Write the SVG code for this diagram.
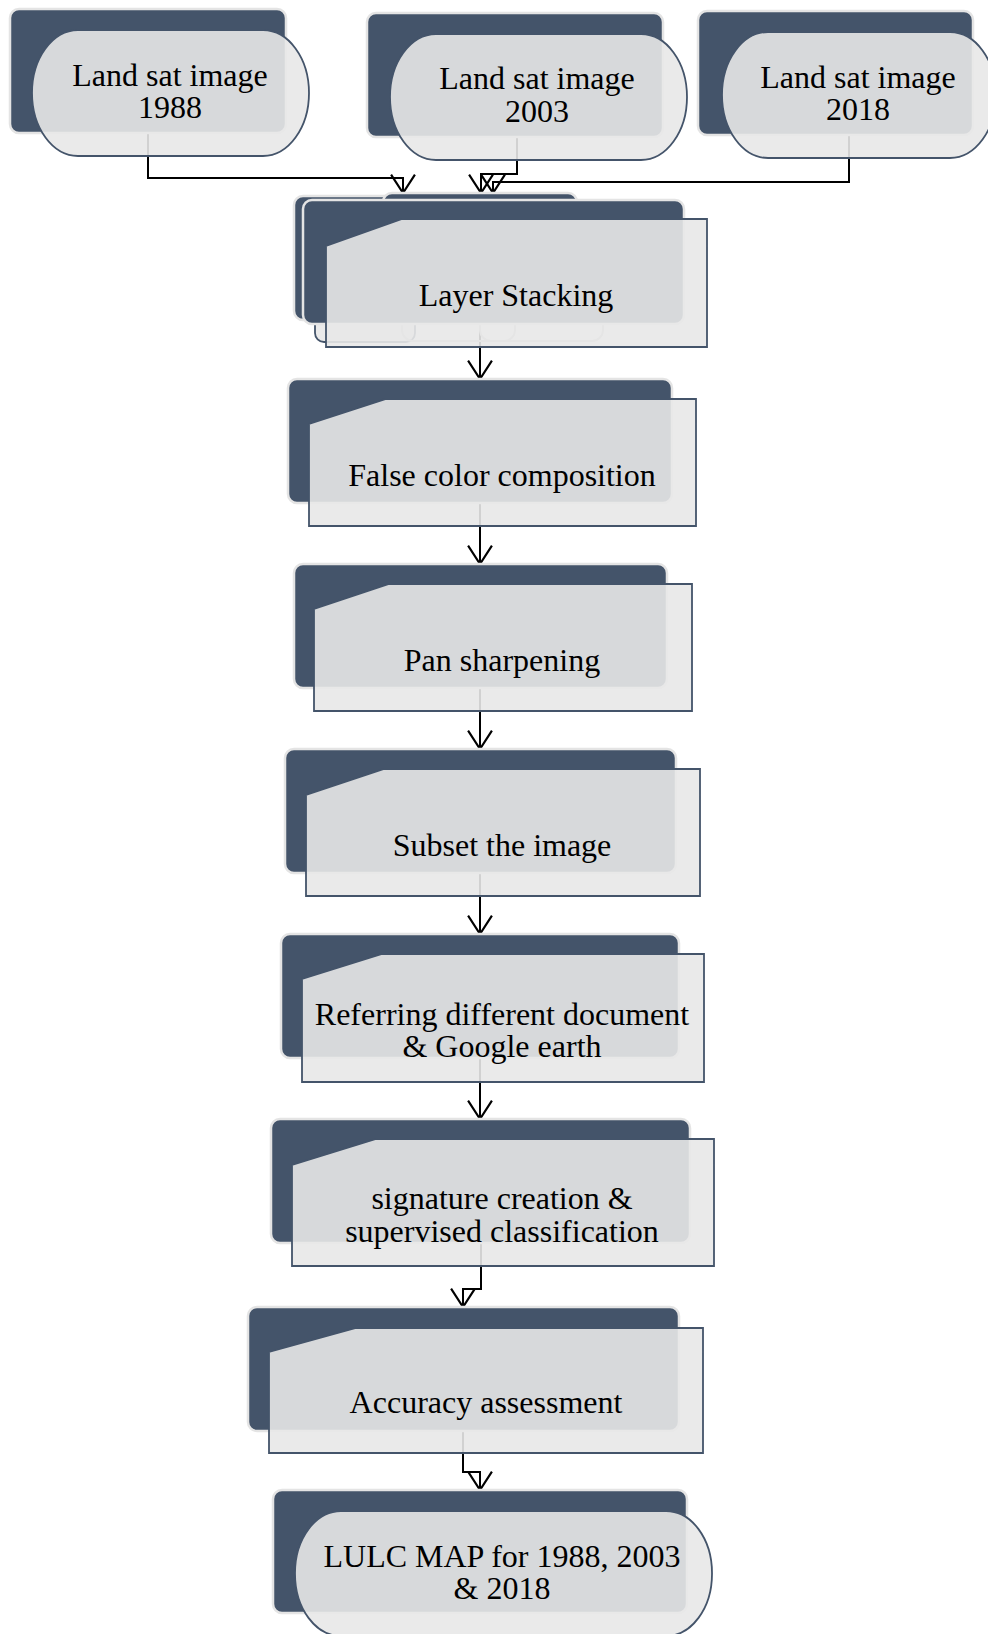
<svg xmlns="http://www.w3.org/2000/svg" width="988" height="1634" viewBox="0 0 988 1634">
<style>
.dk{fill:#44546A;stroke:#E4E4E4;stroke-width:2.5}
.fr{fill:#E8E8E8;fill-opacity:0.9;stroke:#44546A;stroke-width:1.8}
.fx{fill:none;stroke:#C8C8C8;stroke-width:2}
.t{font-family:"Liberation Serif","Times New Roman",serif;font-size:32px;fill:#000;text-anchor:middle}
.c{fill:none;stroke:#000;stroke-width:2;marker-end:url(#ah)}
</style>
<defs>
<marker id="ah" markerUnits="userSpaceOnUse" markerWidth="24" markerHeight="26" viewBox="-19 -12 21 24" refX="0" refY="0" orient="auto">
<path d="M-17,-11 L0,0 L-17,11" fill="none" stroke="#000" stroke-width="2"/>
</marker>
</defs>
<rect width="988" height="1634" fill="#fff"/>
<g id="connectors">
<path class="c" d="M148,133 V178 H403 V193"/>
<path class="c" d="M517,137 V174 H481 V193"/>
<path class="c" d="M849,135 V182 H493 V193"/>
<path class="c" d="M480,324 V379"/>
<path class="c" d="M480,503 V564"/>
<path class="c" d="M480,688 V749"/>
<path class="c" d="M480,873 V934"/>
<path class="c" d="M480,1058 V1119"/>
<path class="c" d="M481,1243 V1289 H463 V1307"/>
<path class="c" d="M463,1431 V1472 H480 V1490"/>
</g>
<g id="n1988">
<rect class="dk" x="10" y="9" width="276" height="124" rx="9"/>
<rect class="fr" x="32" y="30" width="277" height="126" rx="46" ry="63"/>
<text class="t" x="170" y="86">Land sat image<tspan x="170" dy="32">1988</tspan></text>
</g>
<g id="n2003">
<rect class="dk" x="367" y="13" width="296" height="124" rx="9"/>
<rect class="fr" x="390" y="34" width="297" height="126" rx="46" ry="63"/>
<text class="t" x="537" y="89">Land sat image<tspan x="537" dy="33">2003</tspan></text>
</g>
<g id="n2018">
<rect class="dk" x="698" y="11" width="275" height="124" rx="9"/>
<rect class="fr" x="722" y="32" width="274" height="126" rx="46" ry="63"/>
<text class="t" x="858" y="88">Land sat image<tspan x="858" dy="32">2018</tspan></text>
</g>
<g id="layer-stacking">
<rect class="dk" x="294" y="196" width="283" height="124" rx="9"/>
<rect class="dk" x="383" y="193" width="194" height="124" rx="9"/>
<rect class="fr" x="315" y="230" width="100" height="112" rx="9"/>
<rect class="fx" x="402" y="290" width="113" height="51" rx="11"/>
<rect class="fx" x="480" y="290" width="123" height="51" rx="11"/>
<rect class="dk" x="303" y="200" width="381" height="124" rx="9"/>
<path class="fr" d="M326,246 L402,219 L707,219 L707,347 L326,347 Z"/>
<text class="t" x="516" y="306">Layer Stacking</text>
</g>
<g id="false-color">
<rect class="dk" x="288" y="379" width="384" height="124" rx="9"/>
<path class="fr" d="M309,424 L386,399 L696,399 L696,526 L309,526 Z"/>
<text class="t" x="502" y="486">False color composition</text>
</g>
<g id="pan-sharpening">
<rect class="dk" x="294" y="564" width="373" height="124" rx="9"/>
<path class="fr" d="M314,609 L389,584 L692,584 L692,711 L314,711 Z"/>
<text class="t" x="502" y="671">Pan sharpening</text>
</g>
<g id="subset">
<rect class="dk" x="285" y="749" width="391" height="124" rx="9"/>
<path class="fr" d="M306,795 L384,769 L700,769 L700,896 L306,896 Z"/>
<text class="t" x="502" y="856">Subset the image</text>
</g>
<g id="referring">
<rect class="dk" x="281" y="934" width="398" height="124" rx="9"/>
<path class="fr" d="M302,979 L382,954 L704,954 L704,1082 L302,1082 Z"/>
<text class="t" x="502" y="1025">Referring different document<tspan x="502" dy="32">&amp; Google earth</tspan></text>
</g>
<g id="signature">
<rect class="dk" x="271" y="1119" width="419" height="124" rx="9"/>
<path class="fr" d="M292,1165 L376,1139 L714,1139 L714,1266 L292,1266 Z"/>
<text class="t" x="502" y="1209">signature creation &amp;<tspan x="502" dy="33">supervised classification</tspan></text>
</g>
<g id="accuracy">
<rect class="dk" x="248" y="1307" width="431" height="124" rx="9"/>
<path class="fr" d="M269,1352 L356,1328 L703,1328 L703,1453 L269,1453 Z"/>
<text class="t" x="486" y="1413">Accuracy assessment</text>
</g>
<g id="lulc">
<rect class="dk" x="273" y="1490" width="414" height="123" rx="9"/>
<rect class="fr" x="295" y="1511" width="417" height="125" rx="46" ry="62"/>
<text class="t" x="502" y="1567">LULC MAP for 1988, 2003<tspan x="502" dy="32">&amp; 2018</tspan></text>
</g>
</svg>
